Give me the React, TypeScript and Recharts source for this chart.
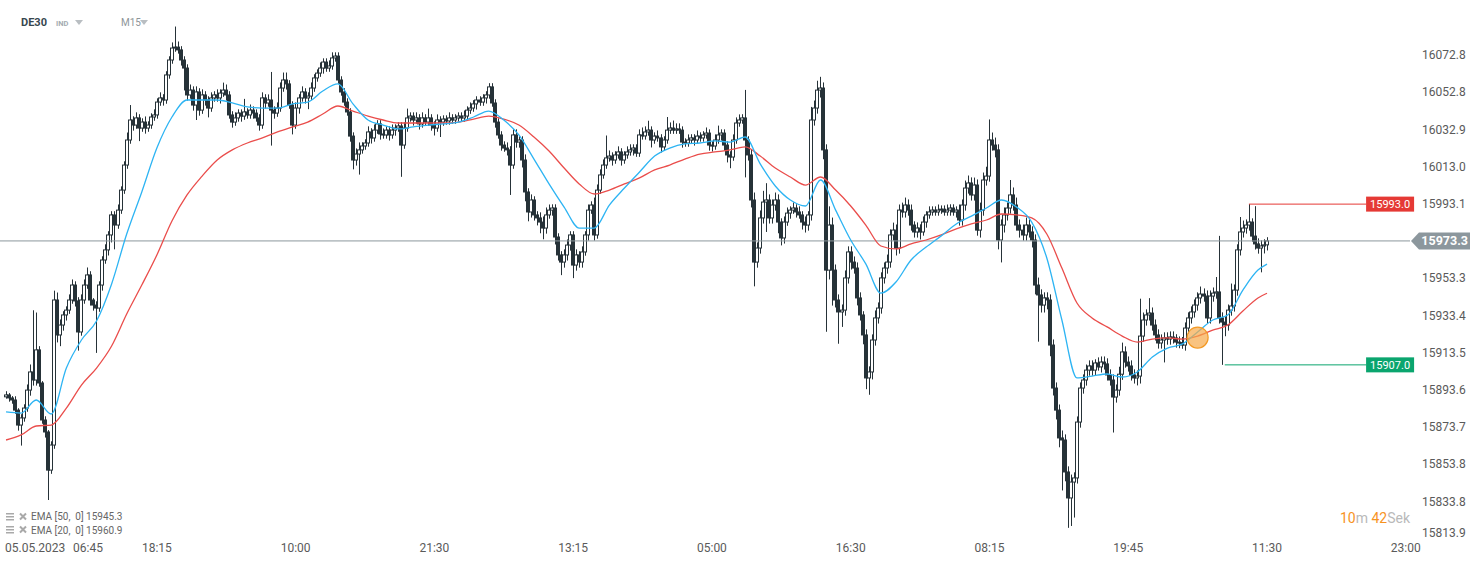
import React from "react";
import { ComposedChart, Bar, Line, XAxis, YAxis, ReferenceLine, ReferenceDot } from "recharts";

// DE30 M15 candles, open of each bar = previous close
const firstOpen = 15889.9;
const closes = [
  15890.9, 15889.3, 15888.2, 15882.8, 15874.8, 15878.6, 15883.9, 15893.5, 15903.2, 15898.9,
  15915.0, 15897.3, 15877.5, 15871.1, 15850.7, 15864.1, 15941.7, 15923.0, 15928.3, 15933.7,
  15936.3, 15941.7, 15949.7, 15941.2, 15924.6, 15941.7, 15949.7, 15955.1, 15941.7, 15939.0,
  15937.4, 15949.7, 15963.1, 15968.5, 15976.5, 15987.2, 15981.8, 15989.8, 16000.5, 16013.9,
  16027.3, 16038.0, 16035.3, 16039.1, 16033.7, 16036.9, 16033.7, 16035.3, 16039.6, 16040.7,
  16047.6, 16049.8, 16048.7, 16062.1, 16070.1, 16076.5, 16077.0, 16075.5, 16070.1, 16065.8,
  16051.4, 16054.0, 16046.0, 16053.0, 16043.3, 16051.4, 16048.7, 16044.4, 16049.8, 16051.4,
  16049.8, 16052.4, 16054.0, 16051.4, 16040.7, 16036.9, 16039.1, 16041.7, 16040.1, 16042.3,
  16040.7, 16043.3, 16041.7, 16039.1, 16035.3, 16049.8, 16047.1, 16048.7, 16043.3, 16041.7,
  16044.4, 16055.1, 16059.4, 16057.3, 16046.0, 16035.3, 16044.4, 16049.8, 16053.0, 16049.8,
  16050.8, 16055.1, 16060.5, 16063.1, 16065.8, 16069.0, 16065.8, 16066.9, 16071.2, 16072.2,
  16059.4, 16053.0, 16047.6, 16042.3, 16029.4, 16016.6, 16019.8, 16022.0, 16024.1, 16025.7,
  16031.6, 16028.4, 16032.6, 16035.9, 16030.5, 16030.0, 16032.6, 16030.0, 16032.6, 16033.7,
  16034.8, 16024.6, 16033.7, 16039.1, 16040.1, 16038.0, 16039.1, 16035.9, 16039.1, 16036.9,
  16039.1, 16035.3, 16033.7, 16038.0, 16036.9, 16038.5, 16037.5, 16039.1, 16038.0, 16039.1,
  16040.1, 16039.1, 16040.1, 16043.3, 16044.4, 16046.6, 16048.7, 16047.6, 16049.8, 16051.4,
  16055.7, 16047.1, 16036.9, 16030.0, 16024.6, 16023.0, 16022.0, 16013.9, 16030.0, 16026.2,
  16027.3, 16016.6, 15999.5, 15988.8, 15995.2, 15987.2, 15985.6, 15983.4, 15980.2, 15987.2,
  15989.8, 15990.9, 15975.4, 15965.8, 15962.0, 15965.8, 15971.1, 15976.5, 15960.4, 15965.8,
  15962.0, 15967.4, 15976.5, 15989.8, 15992.5, 15976.5, 16000.5, 16008.6, 16013.9, 16017.7,
  16018.7, 16016.6, 16019.3, 16020.9, 16016.6, 16019.3, 16020.9, 16022.0, 16023.0, 16020.3,
  16030.0, 16029.5, 16031.6, 16032.6, 16027.3, 16029.4, 16028.4, 16023.6, 16027.3, 16032.6,
  16033.7, 16032.6, 16033.2, 16032.6, 16026.2, 16025.7, 16027.3, 16028.4, 16027.3, 16029.4,
  16028.4, 16030.0, 16031.0, 16024.6, 16024.1, 16027.3, 16030.0, 16031.0, 16024.6, 16019.3,
  16018.2, 16027.3, 16036.4, 16038.0, 16039.1, 16027.3, 16019.3, 15995.2, 15962.0, 15969.5,
  15985.6, 15994.1, 15995.2, 15985.6, 15992.5, 15995.2, 15983.4, 15974.9, 15983.4, 15988.2,
  15989.8, 15990.9, 15988.8, 15987.2, 15983.4, 15981.8, 15987.2, 16038.0, 16044.4, 16054.0,
  16055.1, 16022.0, 15957.7, 15981.8, 15957.7, 15941.7, 15935.3, 15936.3, 15953.5, 15967.4,
  15962.0, 15958.8, 15942.8, 15933.7, 15923.0, 15900.0, 15903.2, 15920.3, 15932.1, 15937.4,
  15953.5, 15958.8, 15962.0, 15976.5, 15979.1, 15969.5, 15989.8, 15988.8, 15992.5, 15989.8,
  15981.8, 15978.1, 15980.2, 15978.1, 15983.4, 15987.2, 15988.8, 15989.8, 15988.8, 15989.8,
  15990.3, 15988.8, 15989.8, 15990.9, 15988.8, 15989.8, 15984.5, 15992.5, 16001.6, 16004.3,
  15997.9, 16003.2, 15979.1, 15989.8, 16005.9, 16008.0, 16027.3, 16024.6, 16022.0, 15973.8,
  15981.8, 15987.2, 15990.9, 15997.9, 15992.5, 15981.8, 15979.1, 15976.5, 15981.8, 15978.1,
  15973.8, 15949.7, 15944.4, 15939.0, 15942.8, 15941.7, 15917.6, 15894.6, 15882.8, 15867.9,
  15866.8, 15849.7, 15835.8, 15844.3, 15846.5, 15876.4, 15894.6, 15898.9, 15904.2, 15906.4,
  15904.2, 15908.0, 15905.9, 15908.5, 15907.5, 15901.6, 15898.9, 15889.8, 15893.5, 15902.0,
  15913.9, 15908.5, 15906.4, 15901.6, 15900.0, 15901.0, 15922.4, 15931.0, 15933.7, 15934.7,
  15928.3, 15923.0, 15918.7, 15920.3, 15921.4, 15920.8, 15921.9, 15921.4, 15919.2, 15918.9,
  15917.6, 15926.7, 15932.1, 15935.3, 15939.0, 15942.8, 15944.9, 15943.8, 15932.1, 15943.8,
  15945.4, 15946.0, 15932.1, 15929.9, 15928.3, 15936.3, 15938.5, 15947.0, 15968.5, 15978.1,
  15980.2, 15981.8, 15983.4, 15975.9, 15971.7, 15969.5, 15970.6, 15971.2, 15973.3,
];

// upper / lower shadow lengths in points
const wickUp = [
  2, 1, 1, 2, 1, 2, 2, 3, 4, 33, 20, 2, 1, 2, 1, 2, 5, 4, 3, 2,
  2, 3, 3, 2, 2, 3, 3, 4, 2, 1, 2, 2, 2, 3, 2, 2, 2, 3, 2, 2,
  4, 8, 2, 3, 2, 2, 3, 2, 2, 3, 2, 3, 2, 2, 2, 3, 11, 3, 2, 2,
  2, 3, 2, 3, 2, 3, 2, 2, 3, 2, 3, 2, 4, 3, 2, 2, 3, 2, 2, 7,
  2, 3, 2, 2, 2, 3, 2, 3, 15, 2, 3, 3, 4, 4, 2, 2, 3, 2, 3, 2,
  2, 3, 2, 2, 3, 2, 2, 3, 3, 2, 2, 2, 2, 2, 2, 2, 3, 4, 2, 2,
  3, 2, 3, 2, 2, 3, 2, 2, 3, 2, 2, 2, 3, 5, 2, 2, 3, 2, 3, 2,
  5, 2, 2, 3, 2, 2, 2, 3, 2, 2, 2, 2, 3, 2, 3, 2, 2, 2, 2, 2,
  2, 2, 2, 2, 2, 2, 3, 2, 3, 3, 2, 2, 3, 2, 3, 2, 2, 3, 3, 4,
  3, 2, 2, 2, 2, 3, 3, 2, 2, 3, 2, 3, 2, 3, 2, 4, 3, 3, 3, 12,
  3, 2, 2, 3, 2, 2, 3, 3, 2, 2, 3, 4, 3, 5, 2, 2, 3, 2, 2, 7,
  3, 4, 3, 3, 2, 2, 3, 2, 2, 3, 2, 2, 3, 2, 2, 3, 5, 2, 2, 2,
  2, 3, 3, 3, 2, 15, 2, 3, 4, 3, 4, 6, 9, 3, 3, 4, 3, 2, 3, 3,
  2, 3, 2, 3, 2, 3, 2, 7, 4, 5, 6, 3, 3, 10, 4, 3, 3, 3, 4, 3,
  3, 3, 3, 3, 2, 3, 3, 3, 4, 3, 3, 3, 4, 3, 4, 3, 3, 4, 4, 3,
  3, 2, 3, 2, 3, 2, 3, 2, 2, 3, 2, 2, 3, 2, 2, 2, 3, 3, 4, 4,
  3, 4, 3, 4, 4, 5, 11, 4, 4, 3, 3, 4, 3, 8, 4, 4, 3, 3, 4, 3,
  3, 3, 4, 3, 3, 3, 3, 3, 3, 3, 4, 3, 3, 4, 3, 3, 3, 3, 3, 3,
  3, 2, 3, 3, 3, 3, 3, 3, 3, 4, 5, 3, 3, 3, 3, 3, 20, 4, 3, 8,
  3, 3, 3, 3, 3, 3, 3, 3, 2, 3, 3, 3, 3, 3, 3, 3, 4, 3, 3, 3,
  3, 8, 30, 3, 3, 3, 12, 3, 3, 8, 4, 3, 9.6, 2, 16, 3, 3, 3, 2,
];
const wickDown = [
  1, 2, 2, 2, 3, 11, 2, 2, 3, 3, 3, 2, 2, 3, 16, 2, 2, 4, 6, 3,
  3, 2, 2, 3, 10, 2, 2, 2, 3, 3, 24, 2, 3, 2, 3, 4, 13, 2, 2, 2,
  2, 2, 3, 2, 7, 2, 3, 2, 2, 2, 2, 2, 3, 2, 2, 2, 2, 2, 3, 12,
  3, 2, 3, 8, 3, 2, 3, 5, 2, 2, 2, 3, 2, 3, 2, 3, 2, 2, 3, 2,
  2, 2, 3, 2, 3, 2, 3, 2, 19, 3, 2, 2, 2, 3, 2, 5, 2, 3, 2, 3,
  6, 2, 2, 2, 2, 3, 2, 2, 2, 2, 2, 2, 2, 2, 3, 5, 3, 11, 2, 2,
  2, 3, 2, 2, 3, 2, 2, 3, 2, 3, 2, 17, 2, 2, 2, 3, 2, 3, 2, 2,
  2, 3, 4, 2, 8, 2, 2, 2, 2, 2, 2, 2, 2, 2, 2, 2, 3, 2, 2, 3,
  2, 2, 3, 2, 3, 2, 3, 16, 2, 3, 3, 4, 5, 5, 3, 3, 4, 6, 6, 3,
  2, 3, 4, 3, 7, 3, 3, 3, 7, 3, 3, 3, 2, 3, 2, 3, 2, 2, 2, 2,
  2, 3, 2, 2, 3, 2, 2, 2, 3, 2, 2, 2, 2, 2, 4, 2, 2, 3, 2, 2,
  2, 2, 2, 2, 3, 2, 2, 2, 3, 2, 2, 2, 2, 3, 3, 2, 2, 3, 3, 4,
  6, 2, 2, 2, 2, 20, 3, 4, 13, 3, 3, 3, 16, 3, 3, 3, 6, 4, 3, 2,
  3, 2, 3, 2, 4, 4, 3, 3, 3, 3, 4, 5, 33, 5, 19, 4, 17, 8, 3, 3,
  4, 3, 4, 3, 5, 6, 9, 4, 3, 3, 3, 3, 3, 3, 3, 4, 3, 3, 3, 3,
  3, 3, 3, 4, 2, 3, 2, 2, 2, 2, 2, 2, 2, 3, 2, 3, 3, 3, 3, 3,
  3, 3, 3, 4, 3, 3, 3, 3, 4, 5, 12, 4, 3, 3, 3, 3, 4, 3, 3, 3,
  4, 5, 25, 4, 4, 5, 6, 4, 5, 5, 27, 5, 16, 15, 19, 3, 3, 3, 3, 3,
  3, 3, 2, 3, 3, 3, 3, 19, 3, 3, 3, 3, 3, 3, 3, 4, 4, 3, 3, 3,
  3, 3, 3, 3, 12, 3, 3, 3, 3, 3, 2, 3, 3, 3, 3, 3, 3, 3, 3, 3,
  3, 3, 3, 22.9, 6, 3, 3, 3, 3, 3, 3, 3, 3, 3, 3, 3, 13, 4, 3,
];

// EMA values read every 5 bars, the last one at the final bar
const emaStep = 5;
const ema20 = [
  15881.8, 15881.2, 15888.2, 15880.7, 15905.3, 15920.3, 15930.5, 15950.3, 15977.0, 15999.5,
  16023.0, 16039.6, 16048.7, 16048.7, 16048.7, 16047.1, 16045.0, 16044.4, 16044.4, 16046.6,
  16047.6, 16053.5, 16057.3, 16046.6, 16038.0, 16035.3, 16033.2, 16034.3, 16035.3, 16035.9,
  16036.9, 16039.6, 16042.8, 16038.0, 16030.0, 16017.1, 16003.8, 15991.4, 15980.2, 15980.2,
  15992.5, 16001.6, 16010.2, 16018.7, 16023.0, 16025.2, 16025.7, 16026.8, 16026.2, 16028.9,
  16014.5, 16002.7, 15995.2, 15992.0, 16005.9, 15989.8, 15973.8, 15961.0, 15945.4, 15951.3,
  15963.1, 15970.0, 15976.0, 15982.4, 15986.6, 15990.9, 15995.2, 15991.4, 15983.4, 15964.2,
  15931.0, 15900.0, 15901.0, 15902.1, 15900.5, 15903.2, 15911.2, 15916.0, 15918.2, 15924.6,
  15931.0, 15933.7, 15947.0, 15957.7, 15960.9,
];
const ema50 = [
  15866.8, 15869.5, 15874.3, 15874.8, 15883.9, 15896.2, 15905.3, 15917.1, 15934.2, 15949.7,
  15965.8, 15984.0, 15997.9, 16008.0, 16016.6, 16022.0, 16025.7, 16028.4, 16031.6, 16034.3,
  16036.9, 16041.2, 16045.5, 16042.8, 16040.1, 16038.0, 16036.4, 16036.4, 16036.4, 16036.4,
  16036.9, 16038.5, 16040.1, 16038.5, 16035.3, 16028.9, 16021.4, 16012.3, 16003.8, 15998.4,
  16000.5, 16003.8, 16007.0, 16011.3, 16013.9, 16017.1, 16019.8, 16020.9, 16022.0, 16023.6,
  16018.7, 16012.3, 16007.5, 16003.2, 16007.5, 16000.5, 15992.0, 15981.8, 15970.6, 15969.0,
  15971.7, 15973.8, 15976.5, 15979.7, 15982.4, 15984.5, 15987.7, 15987.2, 15985.6, 15977.0,
  15958.8, 15940.1, 15932.1, 15927.3, 15922.4, 15919.2, 15920.8, 15921.4, 15920.8, 15922.4,
  15925.6, 15928.3, 15935.8, 15942.8, 15945.3,
];

const startDate = "05.05.2023";
const timeTicks = [4, 50, 96, 142, 188, 234, 280, 326, 372, 418, 464];
const timeLabels = ["06:45", "18:15", "10:00", "21:30", "13:15", "05:00", "16:30", "08:15", "19:45", "11:30", "23:00"];
const priceTicks = [
  16072.8, 16052.8, 16032.9, 16013.0, 15993.1, 15953.3, 15933.4, 15913.5, 15893.6, 15873.7,
  15853.8, 15833.8, 15813.9,
];

const highLevel = 15993.0;
const highFrom = 412;
const lowLevel = 15907.0;
const lowFrom = 404;
const crossMarker = { i: 395, price: 15921.6 };

const X_DOMAIN: [number, number] = [-2, 465.4];
const Y_DOMAIN: [number, number] = [15813.3, 16102.2];
const TAG_CENTER = 458.8;
const TAG_START = 450.9;

const CANDLE = "#263238";
const BLUE = "#2db4f3";
const RED = "#ea4d4b";
const GRAY = "#8c979d";

const lastIndex = closes.length - 1;
const lastClose = closes[lastIndex];

const rows = closes.map((close, i) => {
  const open = i === 0 ? firstOpen : closes[i - 1];
  const high = Math.max(open, close) + wickUp[i];
  const low = Math.min(open, close) - wickDown[i];
  return {
    i,
    open,
    close,
    high,
    low,
    range: [low, high] as [number, number],
    ema20: null as number | null,
    ema50: null as number | null,
  };
});
const emaBar = (k: number, len: number) => (k === len - 1 ? lastIndex : k * emaStep);
ema20.forEach((v, k) => { rows[emaBar(k, ema20.length)].ema20 = v; });
ema50.forEach((v, k) => { rows[emaBar(k, ema50.length)].ema50 = v; });

const Candle = (props: any) => {
  const { x, y, width, height, payload } = props;
  if (x == null || y == null) return null;
  const { open, close, high, low } = payload;
  const k = high > low ? height / (high - low) : 0;
  const c = Math.round(x + width / 2);
  const yO = y + (high - open) * k;
  const yC = y + (high - close) * k;
  const top = Math.min(yO, yC);
  const h = Math.max(Math.abs(yO - yC), 1);
  const up = close >= open;
  return (
    <g>
      <line x1={c + 0.5} x2={c + 0.5} y1={y} y2={y + height} stroke={CANDLE} strokeWidth={1} />
      <rect
        x={c - 1.5}
        y={top}
        width={3}
        height={h}
        fill={up ? "#ffffff" : CANDLE}
        stroke={CANDLE}
        strokeWidth={1}
      />
    </g>
  );
};

const TimeTick = (props: any) => {
  const { x, payload } = props;
  const idx = timeTicks.indexOf(payload.value);
  const style = { fontSize: 12, fill: "#5a5a5a", fontFamily: "Roboto, sans-serif" };
  if (idx === 0) {
    return (
      <g>
        <text x={5} y={552} {...style}>{startDate}</text>
        <text x={73} y={552} {...style}>{timeLabels[idx]}</text>
      </g>
    );
  }
  return (
    <text x={x} y={552} textAnchor="middle" {...style}>
      {timeLabels[idx]}
    </text>
  );
};

const PriceTick = (props: any) => {
  const { y, payload } = props;
  // the lowest label is kept clear of the time axis
  const ty = Math.min(y, 533);
  return (
    <text x={1422} y={ty + 4} fontSize={12} fill="#5a5a5a" fontFamily="Roboto, sans-serif">
      {Number(payload.value).toFixed(1)}
    </text>
  );
};

const CurrentTag = ({ cx, cy }: any) => (
  <g>
    <polygon
      points={`${cx + 1},${cy} ${cx + 9},${cy - 8.5} ${cx + 60},${cy - 8.5} ${cx + 60},${cy + 8.5} ${cx + 9},${cy + 8.5}`}
      fill={GRAY}
    />
    <text x={cx + 58} y={cy + 4.5} textAnchor="end" fontSize={12.5} fontWeight={700} fill="#fff" fontFamily="Roboto, sans-serif">
      {lastClose.toFixed(1)}
    </text>
  </g>
);

const LevelTag = ({ cx, cy, color, value }: any) => (
  <g>
    <rect x={cx - 24} y={cy - 7.5} width={48} height={15} fill={color} />
    <text x={cx} y={cy + 4} textAnchor="middle" fontSize={11} fill="#fff" fontFamily="Roboto, sans-serif">
      {value.toFixed(1)}
    </text>
  </g>
);

const Caret = ({ x, y }: { x: number; y: number }) => (
  <svg style={{ position: "absolute", left: x, top: y }} width={8} height={5}>
    <polygon points="0,0 8,0 4,5" fill="#b9bec2" />
  </svg>
);

const LegendIcons = ({ y }: { y: number }) => (
  <svg style={{ position: "absolute", left: 5, top: y }} width={24} height={10}>
    <rect x={1} y={1} width={8} height={1.5} fill="#a9a9a9" />
    <rect x={1} y={4} width={8} height={1.5} fill="#a9a9a9" />
    <rect x={1} y={7} width={8} height={1.5} fill="#a9a9a9" />
    <path d="M15 1.5 L21 7.5 M21 1.5 L15 7.5" stroke="#a9a9a9" strokeWidth={2} />
  </svg>
);

export default function App() {
  return (
    <div
      style={{
        position: "fixed",
        left: 0,
        top: 0,
        width: 1482,
        height: 564,
        background: "#fff",
        fontFamily: "Roboto, sans-serif",
        overflow: "hidden",
      }}
    >
      <ComposedChart width={1482} height={564} data={rows} margin={{ top: 0, right: 0, bottom: 0, left: 0 }}>
        <XAxis
          dataKey="i"
          type="number"
          domain={X_DOMAIN}
          allowDataOverflow
          ticks={timeTicks}
          tick={<TimeTick />}
          tickLine={false}
          axisLine={false}
          height={24}
          interval={0}
        />
        <YAxis
          orientation="right"
          type="number"
          domain={Y_DOMAIN}
          allowDataOverflow
          ticks={priceTicks}
          tick={<PriceTick />}
          tickLine={false}
          axisLine={false}
          width={72}
          interval={0}
        />
        <ReferenceLine y={lastClose} stroke={GRAY} strokeWidth={1} ifOverflow="visible" />
        <Bar dataKey="range" barSize={4} isAnimationActive={false} shape={(p: any) => <Candle {...p} />} />
        <Line
          dataKey="ema50"
          type="monotone"
          stroke={RED}
          strokeWidth={1.3}
          dot={false}
          activeDot={false}
          connectNulls
          isAnimationActive={false}
        />
        <Line
          dataKey="ema20"
          type="monotone"
          stroke={BLUE}
          strokeWidth={1.3}
          dot={false}
          activeDot={false}
          connectNulls
          isAnimationActive={false}
        />
        <ReferenceLine
          segment={[{ x: highFrom, y: highLevel }, { x: TAG_START, y: highLevel }]}
          stroke="#e53935"
          strokeWidth={1}
          ifOverflow="visible"
        />
        <ReferenceLine
          segment={[{ x: lowFrom, y: lowLevel }, { x: TAG_START, y: lowLevel }]}
          stroke="#0aa56e"
          strokeWidth={1}
          ifOverflow="visible"
        />
        <ReferenceDot
          x={crossMarker.i}
          y={crossMarker.price}
          r={10.5}
          fill="#f7a94a"
          fillOpacity={0.7}
          stroke="#f39a26"
          strokeWidth={1.2}
          ifOverflow="visible"
        />
        <ReferenceDot
          x={TAG_CENTER}
          y={highLevel}
          r={1}
          ifOverflow="visible"
          shape={(p: any) => <LevelTag cx={p.cx} cy={p.cy} color="#e53935" value={highLevel} />}
        />
        <ReferenceDot
          x={TAG_CENTER}
          y={lowLevel}
          r={1}
          ifOverflow="visible"
          shape={(p: any) => <LevelTag cx={p.cx} cy={p.cy} color="#0aa56e" value={lowLevel} />}
        />
        <ReferenceDot
          x={X_DOMAIN[1]}
          y={lastClose}
          r={1}
          ifOverflow="visible"
          shape={(p: any) => <CurrentTag cx={p.cx} cy={p.cy} />}
        />
      </ComposedChart>

      <div style={{ position: "absolute", left: 21, top: 16, fontSize: 11, fontWeight: 700, color: "#37474f" }}>DE30</div>
      <div style={{ position: "absolute", left: 56, top: 19, fontSize: 7.5, fontWeight: 700, color: "#a4abb0" }}>IND</div>
      <Caret x={75} y={20} />
      <div style={{ position: "absolute", left: 121, top: 17, fontSize: 10, color: "#8e9599" }}>M15</div>
      <Caret x={140} y={20} />

      <LegendIcons y={512} />
      <div style={{ position: "absolute", left: 31, top: 511, fontSize: 10, color: "#666" }}>
        EMA [50,&nbsp; 0] {ema50[ema50.length - 1].toFixed(1)}
      </div>
      <LegendIcons y={525} />
      <div style={{ position: "absolute", left: 31, top: 525, fontSize: 10, color: "#666" }}>
        EMA [20,&nbsp; 0] {ema20[ema20.length - 1].toFixed(1)}
      </div>

      <div style={{ position: "absolute", left: 1340, top: 510, fontSize: 14, whiteSpace: "nowrap" }}>
        <span style={{ color: "#f7931e" }}>10</span>
        <span style={{ color: "#b9b9b9" }}>m </span>
        <span style={{ color: "#f7931e" }}>42</span>
        <span style={{ color: "#b9b9b9" }}>Sek</span>
      </div>
    </div>
  );
}
